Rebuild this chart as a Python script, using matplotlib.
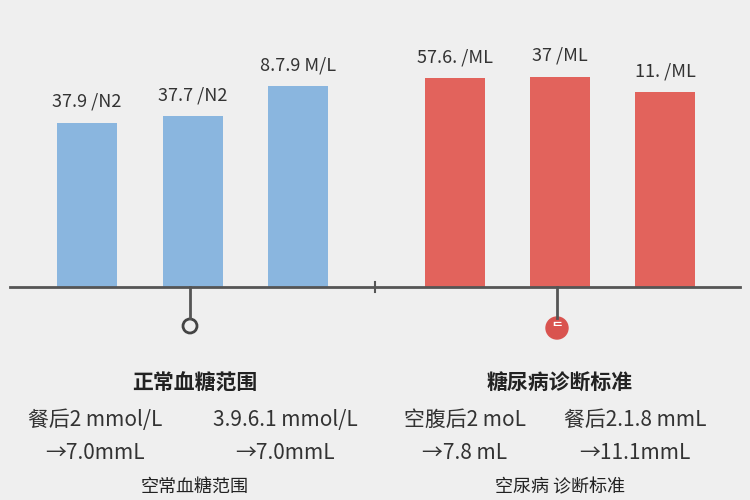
import matplotlib.pyplot as plt
from matplotlib.patches import Circle

plt.rcParams['font.family'] = ['Noto Sans CJK SC', 'DejaVu Sans']

# bar data (heights in chart units)
normal_labels = ["37.9 /N2", "37.7 /N2", "8.7.9 M/L"]
normal_values = [164, 171, 201]
diabetes_labels = ["57.6. /ML", "37 /ML", "11. /ML"]
diabetes_values = [209, 210, 195]

normal_x = [87, 193, 298]
diabetes_x = [455, 560, 665]

group_titles = ["正常血糖范围", "糖尿病诊断标准"]
normal_rows = [("餐后2 mmol/L", "3.9.6.1 mmol/L"), ("→7.0mmL", "→7.0mmL")]
diabetes_rows = [("空腹后2 moL", "餐后2.1.8 mmL"), ("→7.8 mL", "→11.1mmL")]
footers = ["空常血糖范围", "空尿病 诊断标准"]

BLUE = "#8ab6df"
RED = "#e2635c"
BASE = 287

fig = plt.figure(figsize=(7.5, 5), dpi=100, facecolor="#efefef")
ax = fig.add_axes([0, 0, 1, 1])
ax.set_facecolor("#efefef")
ax.set_xlim(0, 750)
ax.set_ylim(500, 0)
ax.axis("off")

ax.bar(normal_x, [-v for v in normal_values], bottom=BASE, width=60, color=BLUE)
ax.bar(diabetes_x, [-v for v in diabetes_values], bottom=BASE, width=60, color=RED)
for x, v, lab in zip(normal_x, normal_values, normal_labels):
    ax.text(x, BASE - v - 12, lab, ha="center", va="bottom", fontsize=13, color="#333")
for x, v, lab in zip(diabetes_x, diabetes_values, diabetes_labels):
    ax.text(x, BASE - v - 12, lab, ha="center", va="bottom", fontsize=13, color="#333")

# baseline and markers
ax.plot([10, 740], [BASE, BASE], color="#555", lw=2)
ax.plot([375, 375], [BASE - 5, BASE + 5], color="#555", lw=1.5)
ax.plot([190, 190], [BASE, 318], color="#555", lw=2)
ax.add_patch(Circle((190, 326), 7, fill=False, ec="#444", lw=2))
ax.plot([557, 557], [BASE, 318], color="#555", lw=2)
ax.add_patch(Circle((557, 328), 11, color="#d9534f"))
ax.text(557, 328, "ᄃ", ha="center", va="center", fontsize=9, color="white", fontweight="bold")

# text blocks
centers = [195, 560]
cols = [(95, 285), (465, 635)]
for c, title, rows, (xa, xb), foot in zip(centers, group_titles, [normal_rows, diabetes_rows], cols, footers):
    ax.text(c, 383, title, ha="center", va="center", fontsize=15, fontweight="bold", color="#222")
    for (a, b), y in zip(rows, [420, 453]):
        ax.text(xa, y, a, ha="center", va="center", fontsize=15, color="#333")
        ax.text(xb, y, b, ha="center", va="center", fontsize=15, color="#333")
    ax.text(c, 487, foot, ha="center", va="center", fontsize=13, color="#222")

fig.savefig("out.png", dpi=100, facecolor=fig.get_facecolor())
